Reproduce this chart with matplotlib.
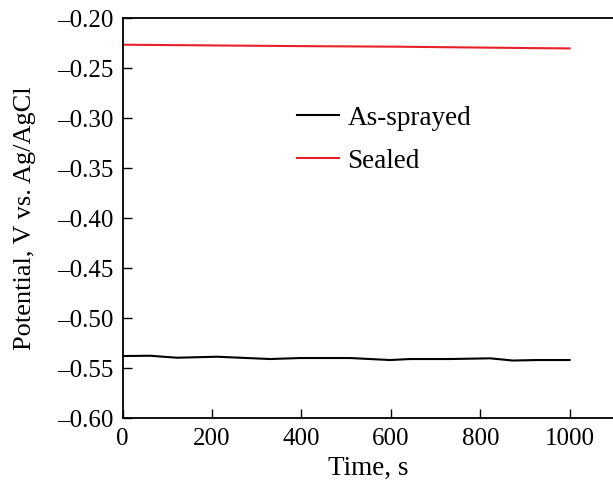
import matplotlib
matplotlib.use("Agg")
import matplotlib.pyplot as plt

plt.rcParams['font.family'] = ['Liberation Serif', 'DejaVu Serif']

t_black = [0, 61, 121, 211, 330, 397, 509, 598, 643, 732, 822, 873, 927, 1000]
v_black = [-0.5377, -0.5374, -0.5394, -0.5384, -0.5407, -0.5397, -0.5397, -0.5417,
           -0.5407, -0.5407, -0.5400, -0.5422, -0.5417, -0.5417]

t_red = [0, 396, 620, 918, 1000]
v_red = [-0.2264, -0.2278, -0.2284, -0.2298, -0.2301]

xticks = [0, 200, 400, 600, 800, 1000]
yticks = [-0.60, -0.55, -0.50, -0.45, -0.40, -0.35, -0.30, -0.25, -0.20]

fig = plt.figure(figsize=(6.13, 4.87), dpi=100)
ax = fig.add_axes([0.2002, 0.1410, 0.802, 0.8214])

ax.plot(t_black, v_black, color='black', lw=1.5, label='As-sprayed')
ax.plot(t_red, v_red, color='#e8202a', lw=1.5, label='Sealed')

ax.set_xlim(0, 1100)
ax.set_ylim(-0.60, -0.20)
ax.set_xticks(xticks)
ax.set_yticks(yticks)
ax.set_xticklabels([str(x) for x in xticks])
ax.set_yticklabels(['\u2013%.2f' % abs(y) for y in yticks])
ax.tick_params(direction='in', length=6.5, width=1, labelsize=18, pad=7)
for s in ax.spines.values():
    s.set_linewidth(1.3)
ax.spines['right'].set_visible(False)

ax.set_xlabel('Time, s', fontsize=19.5, labelpad=4)
ax.set_ylabel('Potential, V vs. Ag/AgCl', fontsize=19, labelpad=15)

ax.legend(loc='upper left', bbox_to_anchor=(0.355, 0.781), frameon=False,
          fontsize=19.5, handlelength=1.55, handletextpad=0.3, labelspacing=0.66,
          borderpad=0, borderaxespad=0)

fig.savefig('out.png', dpi=100)
